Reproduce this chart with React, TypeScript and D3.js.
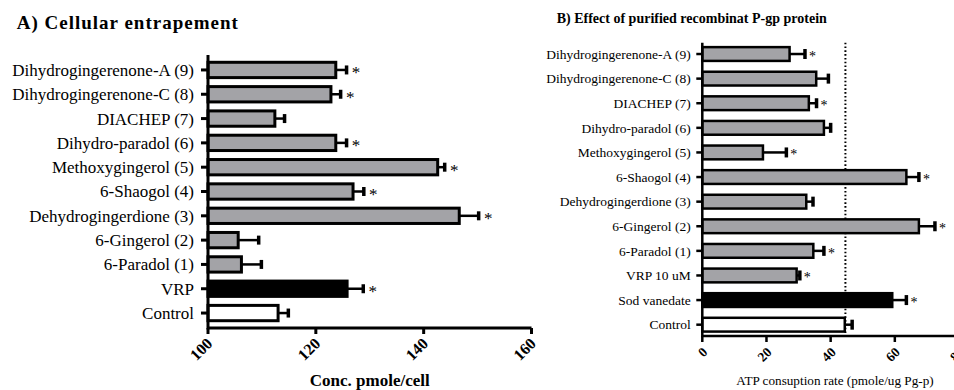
import React from 'react';
import * as d3 from 'd3';

const catsA = ['Dihydrogingerenone-A (9)', 'Dihydrogingerenone-C (8)', 'DIACHEP (7)', 'Dihydro-paradol (6)', 'Methoxygingerol (5)', '6-Shaogol (4)', 'Dehydrogingerdione (3)', '6-Gingerol (2)', '6-Paradol (1)', 'VRP', 'Control'];
const valsA = [123.7, 122.8, 112.4, 123.7, 142.6, 126.9, 146.6, 105.6, 106.2, 125.8, 113.0];
const errA = [2.0, 1.8, 1.8, 2.0, 1.3, 2.0, 3.6, 3.8, 3.7, 3.0, 1.9];
const sigA = [true, true, false, true, true, true, true, false, false, true, false];
const kindA = ['g', 'g', 'g', 'g', 'g', 'g', 'g', 'g', 'g', 'b', 'w'];
const ticksA = [100, 120, 140, 160];

const catsB = ['Dihydrogingerenone-A (9)', 'Dihydrogingerenone-C (8)', 'DIACHEP (7)', 'Dihydro-paradol (6)', 'Methoxygingerol (5)', '6-Shaogol (4)', 'Dehydrogingerdione (3)', '6-Gingerol (2)', '6-Paradol (1)', 'VRP 10 uM', 'Sod vanedate', 'Control'];
const valsB = [27.2, 35.5, 33.2, 37.9, 18.9, 63.6, 32.4, 67.5, 34.6, 29.4, 59.2, 44.4];
const errB = [4.8, 3.8, 2.4, 2.1, 7.3, 3.9, 2.1, 5.0, 3.3, 1.0, 4.4, 2.3];
const sigB = [true, false, true, false, true, true, false, true, true, true, true, false];
const kindB = ['g', 'g', 'g', 'g', 'g', 'g', 'g', 'g', 'g', 'g', 'b', 'w'];
const ticksB = [0, 20, 40, 60, 80];
const refLineB = 44.6;

const FONT = '"Liberation Serif", "Times New Roman", serif';
const fillOf = (k: string) => (k === 'b' ? '#000' : k === 'w' ? '#fff' : '#a3a3a7');

type PanelProps = {
  cats: string[]; vals: number[]; errs: number[]; sig: boolean[]; kinds: string[]; ticks: number[];
  x: d3.ScaleLinear<number, number>; y: d3.ScaleBand<string>;
  axisW: number; barW: number; labelSize: number; labelGap: number; tickLen: number;
  tickFont: number; tickDy: number; tickDx: number; starSize: number; starDx: number; capH: number;
};

function Panel(p: PanelProps) {
  const [d0] = p.x.domain();
  const x0 = p.x(d0);
  const [r0, r1] = p.y.range();
  const bw = p.y.bandwidth();
  const xEnd = p.x(p.ticks[p.ticks.length - 1]);
  return (
    <g>
      {p.cats.map((c, i) => {
        const top = p.y(c)!;
        const cy = top + bw / 2;
        const xv = p.x(p.vals[i]);
        const xe = p.x(p.vals[i] + p.errs[i]);
        return (
          <g key={c}>
            <line x1={xv} x2={xe} y1={cy} y2={cy} stroke="#000" strokeWidth={2.5} />
            <line x1={xe} x2={xe} y1={cy - p.capH / 2} y2={cy + p.capH / 2} stroke="#000" strokeWidth={3.5} />
            <rect x={x0} y={top} width={xv - x0} height={bw} fill={fillOf(p.kinds[i])} stroke="#000" strokeWidth={p.barW} />
            {p.sig[i] && (
              <text x={xe + p.starDx} y={cy + p.starSize * 0.5} fontSize={p.starSize} fontFamily={FONT} textAnchor="middle">*</text>
            )}
            <line x1={x0 - p.tickLen} x2={x0} y1={cy} y2={cy} stroke="#000" strokeWidth={p.axisW} />
            <text x={x0 - p.labelGap} y={cy} dy="0.35em" textAnchor="end" fontSize={p.labelSize} fontFamily={FONT}>{c}</text>
          </g>
        );
      })}
      <path d={`M${x0},${r0}V${r1}H${xEnd}`} fill="none" stroke="#000" strokeWidth={p.axisW} />
      {p.ticks.map((t) => (
        <g key={t}>
          <line x1={p.x(t)} x2={p.x(t)} y1={r1} y2={r1 + 6} stroke="#000" strokeWidth={p.axisW} />
          <text
            transform={`translate(${p.x(t) + p.tickDx},${r1 + p.tickDy}) rotate(-45)`}
            textAnchor="end" fontSize={p.tickFont} fontWeight="bold" fontFamily={FONT}
          >{t}</text>
        </g>
      ))}
    </g>
  );
}

export default function App() {
  const xA = d3.scaleLinear().domain([100, 160]).range([208, 531.5]);
  const yA = d3.scaleBand<string>().domain(catsA).range([55, 328]).paddingInner(0.37).paddingOuter(0.3);
  const xB = d3.scaleLinear().domain([0, 80]).range([702.3, 959]);
  const yB = d3.scaleBand<string>().domain(catsB).range([42.7, 336]).paddingInner(0.44).paddingOuter(0.18);

  return (
    <svg width={954} height={390} style={{ position: 'absolute', left: 0, top: 0, background: '#fff' }}>
      <rect width={954} height={390} fill="#fff" />
      <text x={16.7} y={29.3} fontSize={19} fontWeight="bold" fontFamily={FONT} letterSpacing={1}>A) Cellular entrapement</text>
      <Panel cats={catsA} vals={valsA} errs={errA} sig={sigA} kinds={kindA} ticks={ticksA} x={xA} y={yA}
        axisW={3} barW={3} labelSize={17} labelGap={14} tickLen={7} tickFont={16} tickDy={16.5} tickDx={5.5}
        starSize={17} starDx={9.5} capH={9} />
      <text x={(xA(100) + xA(160)) / 2} y={386} textAnchor="middle" fontSize={17} fontWeight="bold" fontFamily={FONT}>Conc. pmole/cell</text>

      <text x={556.7} y={23.3} fontSize={14} fontWeight="bold" fontFamily={FONT}>B) Effect of purified recombinat P-gp protein</text>
      <line x1={xB(refLineB)} x2={xB(refLineB)} y1={42.7} y2={336} stroke="#000" strokeWidth={2} strokeDasharray="1.6,2.2" />
      <Panel cats={catsB} vals={valsB} errs={errB} sig={sigB} kinds={kindB} ticks={ticksB} x={xB} y={yB}
        axisW={2.5} barW={2.5} labelSize={13.5} labelGap={11.6} tickLen={6} tickFont={13.5} tickDy={17} tickDx={6}
        starSize={14} starDx={7.5} capH={10} />
      <text x={835} y={385} textAnchor="middle" fontSize={13.2} fontFamily={FONT}>ATP consuption rate (pmole/ug Pg-p)</text>
    </svg>
  );
}
